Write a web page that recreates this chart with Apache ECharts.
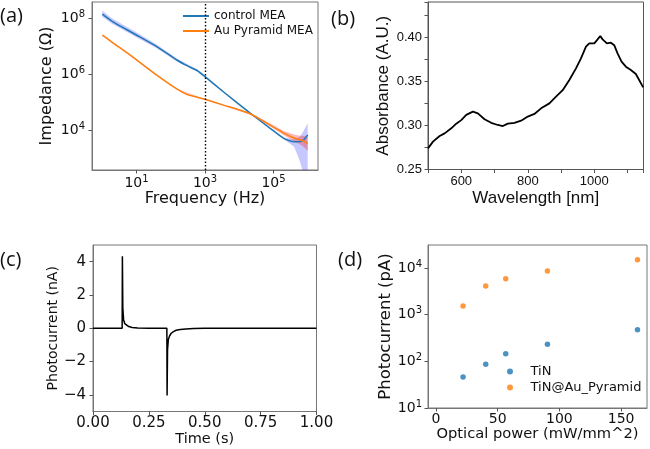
<!DOCTYPE html>
<html>
<head>
<meta charset="utf-8">
<script src="https://cdn.jsdelivr.net/npm/echarts@6/dist/echarts.min.js"></script>
<style>
  html, body { margin: 0; padding: 0; background: #fff; }
  #chart { width: 650px; height: 449px; }
</style>
</head>
<body>
<div id="chart"></div>
<script>
// (a) impedance vs frequency
const freqHz = [1, 2, 8, 40, 150, 300, 600, 1000, 3500, 20000, 80000, 200000, 400000, 700000, 1000000];
const controlZ = [1.41e8, 7.6e7, 2.9e7, 9.5e6, 3.2e6, 2.0e6, 1.32e6, 8.1e5, 2.3e5, 4.2e4, 1.15e4, 5.0e3, 3.8e3, 4.1e3, 6.6e3];
const pyramidZ = [2.5e7, 1.35e7, 4.0e6, 9.0e5, 2.95e5, 1.86e5, 1.5e5, 1.26e5, 7.8e4, 3.9e4, 1.5e4, 7.8e3, 5.2e3, 4.2e3, 3.3e3];
// shaded spread around each curve
const bandFreqHz = [1, 2, 8, 40, 150, 600, 1000, 3500, 20000, 80000, 200000, 400000, 575000, 700000, 1000000];
const controlHi = [1.86e8, 9.5e7, 3.6e7, 1.12e7, 3.6e6, 1.45e6, 8.7e5, 2.45e5, 4.3e4, 1.2e4, 5.4e3, 4.6e3, 5.6e3, 7.9e3, 1.74e4];
const controlLo = [1.12e8, 6.2e7, 2.4e7, 8.3e6, 2.8e6, 1.23e6, 7.8e5, 2.3e5, 4.1e4, 1.12e4, 4.7e3, 2.5e3, 830, 250, 100];
const pyramidHi = [2.63e7, 1.41e7, 4.17e6, 9.3e5, 3.09e5, 1.58e5, 1.32e5, 8.1e4, 4.2e4, 1.7e4, 9.3e3, 6.9e3, 6.2e3, 6.3e3, 5.8e3];
const pyramidLo = [2.4e7, 1.29e7, 3.8e6, 8.5e5, 2.8e5, 1.45e5, 1.2e5, 7.4e4, 3.6e4, 1.35e4, 6.5e3, 4.0e3, 3.1e3, 2.75e3, 1.8e3];
const freqTicks = [10, 1000, 100000];
const impedanceTicks = [1e4, 1e6, 1e8];

// (b) absorbance spectrum
const wavelengthNm = [500, 515, 535, 550, 570, 585, 600, 615, 635, 650, 670, 690, 710, 725, 740, 760, 780, 800, 820, 840, 865, 885, 905, 925, 945, 960, 975, 985, 1000, 1010, 1018, 1025, 1038, 1050, 1060, 1070, 1082, 1095, 1110, 1125, 1135, 1147];
const absorbance = [0.274, 0.2816, 0.288, 0.291, 0.2967, 0.302, 0.306, 0.312, 0.3156, 0.3137, 0.307, 0.303, 0.3005, 0.2993, 0.302, 0.303, 0.3054, 0.310, 0.313, 0.3194, 0.325, 0.3326, 0.340, 0.3515, 0.3647, 0.376, 0.3893, 0.393, 0.393, 0.3976, 0.4014, 0.3976, 0.393, 0.3938, 0.391, 0.3817, 0.3723, 0.3666, 0.3628, 0.3583, 0.3515, 0.3432];

// (c) photocurrent trace
const timeS = [0, 0.1305, 0.1315, 0.1335, 0.137, 0.142, 0.15, 0.16, 0.175, 0.2, 0.25, 0.3305, 0.3315, 0.3335, 0.337, 0.343, 0.35, 0.36, 0.372, 0.39, 0.416, 0.45, 0.5, 1];
const currentNA = [0, 0, 4.32, 1.2, 0.5, 0.28, 0.16, 0.1, 0.05, 0.02, 0.005, 0, -4.04, -1.3, -0.68, -0.45, -0.3, -0.2, -0.12, -0.07, -0.04, -0.02, -0.005, 0];
const currentTicks = [-4, -2, 0, 2, 4];

// (d) photocurrent vs optical power
const powerTiN = [21.9, 40.3, 56.5, 90.3, 163.3];
const photoTiN = [46, 86, 146, 231, 476];
const powerPyramid = [21.9, 40.3, 56.5, 90.3, 163.3];
const photoPyramid = [1535, 4110, 5890, 8610, 15000];
const powerTicks = [0, 50, 100, 150];
const photoTicks = [10, 100, 1000, 10000];

const BLUE = '#1f77b4';
const ORANGE = '#ff7f0e';
const MPL = 'DejaVu Sans';
const TXT = '#111';

const pow10Label = v => '{b|10}{s|' + Math.round(Math.log10(v)) + '}';
const pow10Rich = {
  b: { fontSize: 14, fontFamily: MPL, color: TXT, lineHeight: 18 },
  s: { fontSize: 10, fontFamily: MPL, color: TXT, lineHeight: 10, verticalAlign: 'top' }
};
const minus = v => (v < 0 ? '\u2212' + Math.abs(v) : String(v));

function mplAxis(extra) {
  return Object.assign({
    axisLine: { show: true, onZero: false, lineStyle: { color: '#777', width: 1 } },
    splitLine: { show: false },
    nameLocation: 'middle'
  }, extra);
}

// filled band between lo and hi, clipped to the grid
function bandRenderer(lo, hi, color) {
  return function (params, api) {
    if (params.dataIndex !== 0) return;
    const cs = params.coordSys;
    const upper = bandFreqHz.map((f, i) => api.coord([f, hi[i]]));
    const lower = bandFreqHz.map((f, i) => api.coord([f, lo[i]])).reverse();
    const pts = upper.concat(lower).map(p => [p[0], Math.min(Math.max(p[1], cs.y), cs.y + cs.height)]);
    return { type: 'polygon', shape: { points: pts }, style: { fill: color } };
  };
}

const chart = echarts.init(document.getElementById('chart'), null, { renderer: 'canvas' });

const panelFont = '20px "Open Sans"';

const option = {
  animation: false,
  backgroundColor: '#fff',
  graphic: [
    { type: 'text', left: 0, top: 6, style: { text: '(a)', font: panelFont, fill: TXT } },
    { type: 'text', left: 331, top: 9, style: { text: '(b)', font: panelFont, fill: TXT } },
    { type: 'text', left: 0, top: 250, style: { text: '(c)', font: panelFont, fill: TXT } },
    { type: 'text', left: 338, top: 250, style: { text: '(d)', font: panelFont, fill: TXT } }
  ],
  grid: [
    { left: 92, top: 2, width: 226, height: 168, show: true, borderColor: '#777' },
    { left: 428, top: 2, width: 215.5, height: 167.5, show: true, borderColor: '#555' },
    { left: 93, top: 245, width: 223.5, height: 166.5, show: true, borderColor: '#777' },
    { left: 428, top: 245, width: 219, height: 163, show: true, borderColor: '#777' }
  ],
  legend: [
    {
      data: ['control MEA', 'Au Pyramid MEA'], orient: 'vertical', left: 183, top: 10, padding: 0,
      itemWidth: 26, itemHeight: 2, icon: 'rect', itemGap: 3,
      textStyle: { fontSize: 12, fontFamily: MPL, color: TXT }
    },
    {
      data: ['TiN', 'TiN@Au_Pyramid'], orient: 'vertical', left: 507, top: 365, padding: 0,
      itemWidth: 19, itemHeight: 6, icon: 'circle', itemGap: 3,
      textStyle: { fontSize: 13, fontFamily: MPL, color: TXT, padding: [0, 0, 0, 6] }
    }
  ],
  xAxis: [
    mplAxis({
      gridIndex: 0, type: 'log', min: 0.501, max: 1.995e6,
      axisTick: { customValues: freqTicks, length: 3.5, lineStyle: { color: '#555' } },
      axisLabel: { customValues: freqTicks, formatter: pow10Label, rich: pow10Rich, margin: 4 },
      name: 'Frequency (Hz)', nameGap: 21,
      nameTextStyle: { fontSize: 16, fontFamily: MPL, color: TXT }
    }),
    mplAxis({
      gridIndex: 1, type: 'value', min: 500, max: 1148, interval: 100,
      axisLine: { show: true, onZero: false, lineStyle: { color: '#555' } },
      axisTick: { length: 3.5, lineStyle: { color: '#555' } },
      axisLabel: {
        formatter: v => (Math.round(v) % 200 === 0 ? String(Math.round(v)) : ''),
        fontSize: 13, fontFamily: 'Liberation Sans', color: TXT, margin: 5
      },
      name: 'Wavelength [nm]', nameGap: 20,
      nameTextStyle: { fontSize: 17, fontFamily: 'Liberation Sans', color: TXT }
    }),
    mplAxis({
      gridIndex: 2, type: 'value', min: 0, max: 1, interval: 0.25,
      axisTick: { length: 3.5, lineStyle: { color: '#555' } },
      axisLabel: { formatter: v => v.toFixed(2), fontSize: 15, fontFamily: MPL, color: TXT, margin: 4 },
      name: 'Time (s)', nameGap: 19,
      nameTextStyle: { fontSize: 14.5, fontFamily: MPL, color: TXT }
    }),
    mplAxis({
      gridIndex: 3, type: 'value', min: -6.5, max: 171,
      axisTick: { customValues: powerTicks, length: 3.5, lineStyle: { color: '#555' } },
      axisLabel: { customValues: powerTicks, fontSize: 14, fontFamily: MPL, color: TXT, margin: 4 },
      name: 'Optical power (mW/mm^2)', nameGap: 19,
      nameTextStyle: { fontSize: 14.7, fontFamily: MPL, color: TXT }
    })
  ],
  yAxis: [
    mplAxis({
      gridIndex: 0, type: 'log', min: 372, max: 3.8e8,
      axisTick: { customValues: impedanceTicks, length: 3.5, lineStyle: { color: '#555' } },
      axisLabel: { customValues: impedanceTicks, formatter: pow10Label, rich: pow10Rich, margin: 7 },
      name: 'Impedance (\u03a9)', nameGap: 37,
      nameTextStyle: { fontSize: 16, fontFamily: MPL, color: TXT }
    }),
    mplAxis({
      gridIndex: 1, type: 'value', min: 0.25, max: 0.44, interval: 0.025,
      axisLine: { show: true, onZero: false, lineStyle: { color: '#555' } },
      axisTick: { length: 3.5, lineStyle: { color: '#555' } },
      axisLabel: {
        formatter: v => (Math.round(v * 1000) % 50 === 0 ? v.toFixed(2) : ''),
        fontSize: 13, fontFamily: 'Liberation Sans', color: TXT, margin: 6
      },
      name: 'Absorbance (A.U.)', nameGap: 36,
      nameTextStyle: { fontSize: 17, fontFamily: 'Liberation Sans', color: TXT }
    }),
    mplAxis({
      gridIndex: 2, type: 'value', min: -5, max: 5,
      axisTick: { customValues: currentTicks, length: 3.5, lineStyle: { color: '#555' } },
      axisLabel: { customValues: currentTicks, formatter: minus, fontSize: 15, fontFamily: MPL, color: TXT, margin: 7 },
      name: 'Photocurrent (nA)', nameGap: 31,
      nameTextStyle: { fontSize: 14, fontFamily: MPL, color: TXT }
    }),
    mplAxis({
      gridIndex: 3, type: 'log', min: 10, max: 31000,
      axisTick: { customValues: photoTicks, length: 3.5, lineStyle: { color: '#555' } },
      axisLabel: { customValues: photoTicks, formatter: pow10Label, rich: pow10Rich, margin: 6 },
      name: 'Photocurrent (pA)', nameGap: 31,
      nameTextStyle: { fontSize: 16.5, fontFamily: MPL, color: TXT }
    })
  ],
  series: [
    {
      type: 'custom', xAxisIndex: 0, yAxisIndex: 0, silent: true, z: 1,
      data: [[bandFreqHz[0], controlHi[0]]],
      renderItem: bandRenderer(controlLo, controlHi, 'rgba(0,0,255,0.22)')
    },
    {
      type: 'custom', xAxisIndex: 0, yAxisIndex: 0, silent: true, z: 1,
      data: [[bandFreqHz[0], pyramidHi[0]]],
      renderItem: bandRenderer(pyramidLo, pyramidHi, 'rgba(255,0,0,0.28)')
    },
    {
      name: 'control MEA', type: 'line', xAxisIndex: 0, yAxisIndex: 0, z: 3,
      data: freqHz.map((f, i) => [f, controlZ[i]]),
      showSymbol: false, smooth: 0.2, color: BLUE,
      lineStyle: { width: 1.5, color: BLUE },
      markLine: {
        silent: true, symbol: 'none', label: { show: false },
        lineStyle: { color: '#000', type: [1.5, 2], width: 1.4 },
        data: [{ xAxis: 1000 }]
      }
    },
    {
      name: 'Au Pyramid MEA', type: 'line', xAxisIndex: 0, yAxisIndex: 0, z: 3,
      data: freqHz.map((f, i) => [f, pyramidZ[i]]),
      showSymbol: false, smooth: 0.2, color: ORANGE,
      lineStyle: { width: 1.5, color: ORANGE }
    },
    {
      type: 'line', xAxisIndex: 1, yAxisIndex: 1,
      data: wavelengthNm.map((w, i) => [w, absorbance[i]]),
      showSymbol: false, color: '#000',
      lineStyle: { width: 1.8, color: '#000' }
    },
    {
      type: 'line', xAxisIndex: 2, yAxisIndex: 2,
      data: timeS.map((t, i) => [t, currentNA[i]]),
      showSymbol: false, color: '#000',
      lineStyle: { width: 1.5, color: '#000' }
    },
    {
      name: 'TiN', type: 'scatter', xAxisIndex: 3, yAxisIndex: 3,
      data: powerTiN.map((p, i) => [p, photoTiN[i]]),
      symbolSize: 5.5, itemStyle: { color: BLUE }
    },
    {
      name: 'TiN@Au_Pyramid', type: 'scatter', xAxisIndex: 3, yAxisIndex: 3,
      data: powerPyramid.map((p, i) => [p, photoPyramid[i]]),
      symbolSize: 5.5, itemStyle: { color: ORANGE }
    }
  ]
};

chart.setOption(option);
window.addEventListener('resize', () => chart.resize());
</script>
</body>
</html>
